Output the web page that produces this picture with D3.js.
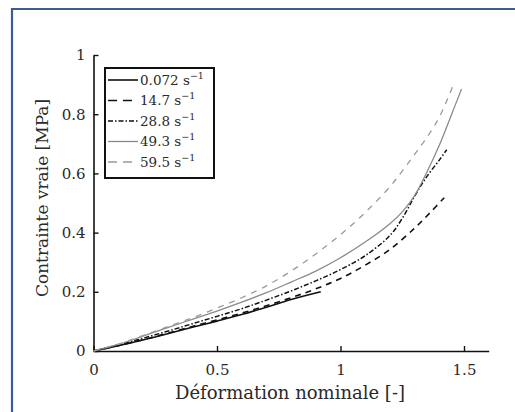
<!DOCTYPE html>
<html><head><meta charset="utf-8">
<script src="https://cdn.jsdelivr.net/npm/d3@7"></script>
<style>
html,body{margin:0;padding:0;background:#fff;}
svg{display:block;}
text{font-family:"DejaVu Serif",serif;fill:#2a2a2a;}
</style></head>
<body>
<svg id="c" width="515" height="412"></svg>
<script>
// ---- data ----
const xTickValues = [0, 0.5, 1, 1.5];
const xTickLabels = ["0", "0.5", "1", "1.5"];
const yTickValues = [0, 0.2, 0.4, 0.6, 0.8, 1];
const yTickLabels = ["0", "0.2", "0.4", "0.6", "0.8", "1"];
const seriesNames = ["0.072", "14.7", "28.8", "49.3", "59.5"];

const strain0072 = [0, .1, .2, .3, .4, .5, .6, .7, .8, .92];
const stress0072 = [0, .018, .037, .058, .08, .101, .123, .148, .174, .2];

const strain147 = [0, .1, .2, .3, .4, .5, .6, .7, .8, .9, 1.0, 1.1, 1.2, 1.3, 1.36, 1.42];
const stress147 = [0, .018, .038, .06, .083, .105, .128, .153, .18, .21, .245, .29, .343, .415, .465, .518];

const strain288 = [0, .1, .2, .3, .4, .5, .6, .7, .8, .9, 1.0, 1.1, 1.2, 1.25, 1.3, 1.35, 1.4, 1.43];
const stress288 = [0, .02, .043, .067, .092, .117, .143, .172, .203, .237, .275, .322, .39, .448, .523, .59, .645, .68];

const strain493 = [0, .1, .2, .3, .4, .5, .6, .7, .8, .9, 1.0, 1.1, 1.2, 1.25, 1.3, 1.35, 1.4, 1.45, 1.49];
const stress493 = [0, .022, .05, .079, .107, .135, .165, .197, .233, .27, .315, .368, .43, .47, .525, .605, .695, .8, .885];

const strain595 = [0, .1, .2, .3, .4, .5, .6, .7, .8, .9, 1.0, 1.1, 1.2, 1.25, 1.3, 1.35, 1.4, 1.455];
const stress595 = [0, .023, .052, .082, .112, .145, .18, .22, .27, .328, .393, .468, .555, .608, .664, .722, .79, .895];

const strains = [strain0072, strain147, strain288, strain493, strain595];
const stresses = [stress0072, stress147, stress288, stress493, stress595];

// ---- styles ----
const styles = [
  {color: "#111", width: 1.6, dash: null},
  {color: "#111", width: 1.6, dash: "6,5"},
  {color: "#111", width: 1.5, dash: "5,2,1.5,2"},
  {color: "#8a8a8a", width: 1.3, dash: null},
  {color: "#9a9a9a", width: 1.3, dash: "6,6"}
];

const svg = d3.select("#c");

// blue frame
svg.append("path")
  .attr("d", "M12,420 L12,9 L520,9")
  .attr("fill", "none").attr("stroke", "#3a5e94").attr("stroke-width", 2.2);

const x = d3.scaleLinear().domain([0, 1.6]).range([93.5, 488.7]);
const y = d3.scaleLinear().domain([0, 1]).range([351, 55]);

// axes
const xAxis = d3.axisBottom(x).tickValues(xTickValues)
  .tickFormat((d, i) => xTickLabels[i]).tickSizeInner(-5).tickSizeOuter(0).tickPadding(13.5);
const yAxis = d3.axisLeft(y).tickValues(yTickValues)
  .tickFormat((d, i) => yTickLabels[i]).tickSizeInner(-5).tickSizeOuter(0).tickPadding(8);

const gx = svg.append("g").attr("transform", "translate(0,351)").call(xAxis);
const gy = svg.append("g").attr("transform", "translate(93.5,0)").call(yAxis);
[gx, gy].forEach(g => {
  g.select(".domain").attr("stroke", "#111").attr("stroke-width", 1.6);
  g.selectAll(".tick line").attr("stroke", "#111").attr("stroke-width", 1.4);
  g.selectAll(".tick text").attr("font-family", "DejaVu Serif").attr("font-size", 15).attr("fill", "#2a2a2a");
});

// curves
const line = d3.line().x(d => x(d[0])).y(d => y(d[1])).curve(d3.curveCatmullRom.alpha(0.5));
strains.forEach((xs, i) => {
  const pts = xs.map((v, j) => [v, stresses[i][j]]);
  svg.append("path").datum(pts)
    .attr("d", line)
    .attr("fill", "none")
    .attr("stroke", styles[i].color)
    .attr("stroke-width", styles[i].width)
    .attr("stroke-dasharray", styles[i].dash);
});

// labels
svg.append("text").attr("x", 290).attr("y", 399).attr("text-anchor", "middle")
  .attr("font-size", 18).text("Déformation nominale [-]");
svg.append("text").attr("transform", "translate(48,198) rotate(-90)").attr("text-anchor", "middle")
  .attr("font-size", 17).text("Contrainte vraie [MPa]");

// legend
const lg = svg.append("g");
lg.append("rect").attr("x", 105).attr("y", 68).attr("width", 109).attr("height", 110)
  .attr("fill", "#fff").attr("stroke", "#111").attr("stroke-width", 2);
seriesNames.forEach((n, i) => {
  const yy = 80 + 20.5 * i;
  lg.append("line").attr("x1", 108).attr("x2", 138).attr("y1", yy).attr("y2", yy)
    .attr("stroke", styles[i].color).attr("stroke-width", styles[i].width)
    .attr("stroke-dasharray", i === 1 || i === 4 ? "9,6" : styles[i].dash);
  const t = lg.append("text").attr("x", 140).attr("y", yy + 4.5).attr("font-size", 13.5);
  t.append("tspan").text(n + " s");
  t.append("tspan").attr("dy", -6).attr("font-size", 9.5).text("−1");
});
</script>
</body></html>
